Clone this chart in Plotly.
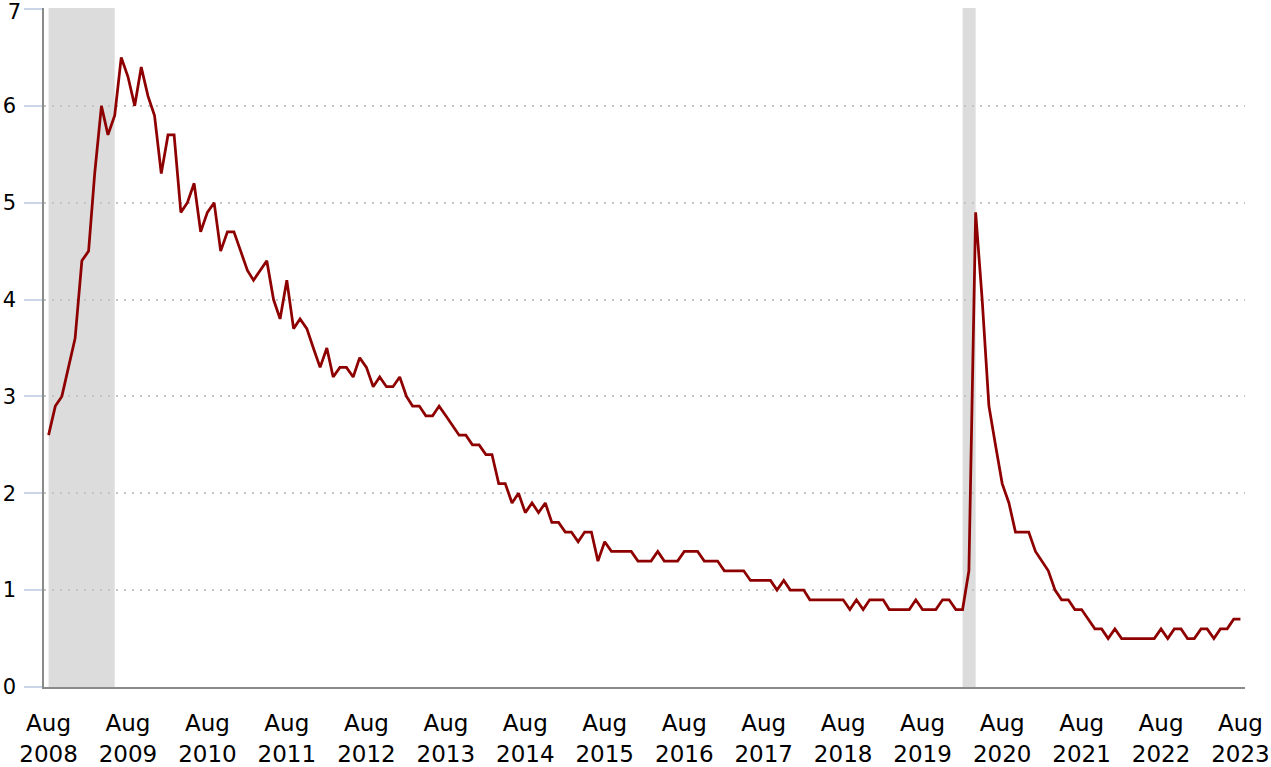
import pandas as pd
import plotly.graph_objects as go

start_month = "2008-08-01"
values = [
    2.6, 2.9, 3.0, 3.3, 3.6, 4.4, 4.5, 5.3, 6.0, 5.7, 5.9, 6.5,
    6.3, 6.0, 6.4, 6.1, 5.9, 5.3, 5.7, 5.7, 4.9, 5.0, 5.2, 4.7,
    4.9, 5.0, 4.5, 4.7, 4.7, 4.5, 4.3, 4.2, 4.3, 4.4, 4.0, 3.8,
    4.2, 3.7, 3.8, 3.7, 3.5, 3.3, 3.5, 3.2, 3.3, 3.3, 3.2, 3.4,
    3.3, 3.1, 3.2, 3.1, 3.1, 3.2, 3.0, 2.9, 2.9, 2.8, 2.8, 2.9,
    2.8, 2.7, 2.6, 2.6, 2.5, 2.5, 2.4, 2.4, 2.1, 2.1, 1.9, 2.0,
    1.8, 1.9, 1.8, 1.9, 1.7, 1.7, 1.6, 1.6, 1.5, 1.6, 1.6, 1.3,
    1.5, 1.4, 1.4, 1.4, 1.4, 1.3, 1.3, 1.3, 1.4, 1.3, 1.3, 1.3,
    1.4, 1.4, 1.4, 1.3, 1.3, 1.3, 1.2, 1.2, 1.2, 1.2, 1.1, 1.1,
    1.1, 1.1, 1.0, 1.1, 1.0, 1.0, 1.0, 0.9, 0.9, 0.9, 0.9, 0.9,
    0.9, 0.8, 0.9, 0.8, 0.9, 0.9, 0.9, 0.8, 0.8, 0.8, 0.8, 0.9,
    0.8, 0.8, 0.8, 0.9, 0.9, 0.8, 0.8, 1.2, 4.9, 4.0, 2.9, 2.5,
    2.1, 1.9, 1.6, 1.6, 1.6, 1.4, 1.3, 1.2, 1.0, 0.9, 0.9, 0.8,
    0.8, 0.7, 0.6, 0.6, 0.5, 0.6, 0.5, 0.5, 0.5, 0.5, 0.5, 0.5,
    0.6, 0.5, 0.6, 0.6, 0.5, 0.5, 0.6, 0.6, 0.5, 0.6, 0.6, 0.7,
    0.7,
]
dates = pd.date_range(start_month, periods=len(values), freq="MS")

recessions = [("2008-08-01", "2009-06-01"), ("2020-02-01", "2020-04-01")]

tick_years = list(range(2008, 2024))
tick_vals = [f"{y}-08-01" for y in tick_years]
tick_months = ["Aug" for _ in tick_years]
tick_year_text = [str(y) for y in tick_years]
y_ticks = [0, 1, 2, 3, 4, 5, 6, 7]
y_tick_text = ["0", "1", "2", "3", "4", "5", "6", ""]   # top label drawn on yaxis2
y_top_tick = [7]
y_top_text = ["7"]

x_range = ["2008-07-11", "2023-08-22"]
y_range = [0, 7.01]

fig = go.Figure()
fig.add_trace(go.Scatter(
    x=dates, y=values, mode="lines",
    line=dict(color="#8e0000", width=2.75),
    hoverinfo="skip", showlegend=False,
))
# invisible carrier trace so the secondary label axes are drawn
fig.add_trace(go.Scatter(
    x=dates, y=values, mode="lines", xaxis="x2", yaxis="y2",
    line=dict(color="rgba(0,0,0,0)", width=0),
    hoverinfo="skip", showlegend=False,
))

for x0, x1 in recessions:
    fig.add_shape(type="rect", xref="x", yref="paper", x0=x0, x1=x1, y0=0, y1=1,
                  fillcolor="#dcdcdc", line=dict(width=0), layer="below")

font = "DejaVu Sans, Verdana, sans-serif"
fig.update_layout(
    width=1271, height=767,
    margin=dict(l=44, r=26, t=8, b=80),
    paper_bgcolor="white", plot_bgcolor="white",
    font=dict(family=font, color="#000000", size=20),
    xaxis=dict(
        type="date", range=x_range, automargin=False,
        tickmode="array", tickvals=tick_vals, ticktext=tick_months,
        tickfont=dict(size=23, family=font, color="#000000"),
        showgrid=False, zeroline=False,
        showline=True, linecolor="#8a8a8a", linewidth=2,
        ticks="", ticklabelstandoff=14, ticklabeloverflow="allow",
    ),
    xaxis2=dict(
        type="date", range=x_range, automargin=False,
        overlaying="x", anchor="y", side="bottom", matches="x",
        tickmode="array", tickvals=tick_vals, ticktext=tick_year_text,
        tickfont=dict(size=23, family=font, color="#000000"),
        showgrid=False, zeroline=False, showline=False,
        ticks="", ticklabelstandoff=51, ticklabeloverflow="allow",
    ),
    yaxis=dict(
        range=y_range, automargin=False,
        tickmode="array", tickvals=y_ticks, ticktext=y_tick_text,
        tickfont=dict(size=21, family=font, color="#000000"),
        showgrid=True, gridcolor="#c4c4c4", gridwidth=2, griddash="2px,6px",
        zeroline=False,
        showline=True, linecolor="#8a8a8a", linewidth=1.5,
        ticks="outside", ticklen=18, tickwidth=1.5, tickcolor="#ccd6eb",
        ticklabelstandoff=4, ticklabeloverflow="allow",
    ),
    yaxis2=dict(
        range=y_range, automargin=False,
        overlaying="y", anchor="x", side="left", matches="y",
        tickmode="array", tickvals=y_top_tick, ticktext=y_top_text,
        tickfont=dict(size=21, family=font, color="#000000"),
        showgrid=False, zeroline=False, showline=False,
        ticks="", ticklabelstandoff=22, ticklabeloverflow="allow",
        ticklabelshift=3,
    ),
)

fig.write_html("out.html", config={"displayModeBar": False},
               post_script="document.body.style.margin='0';")
